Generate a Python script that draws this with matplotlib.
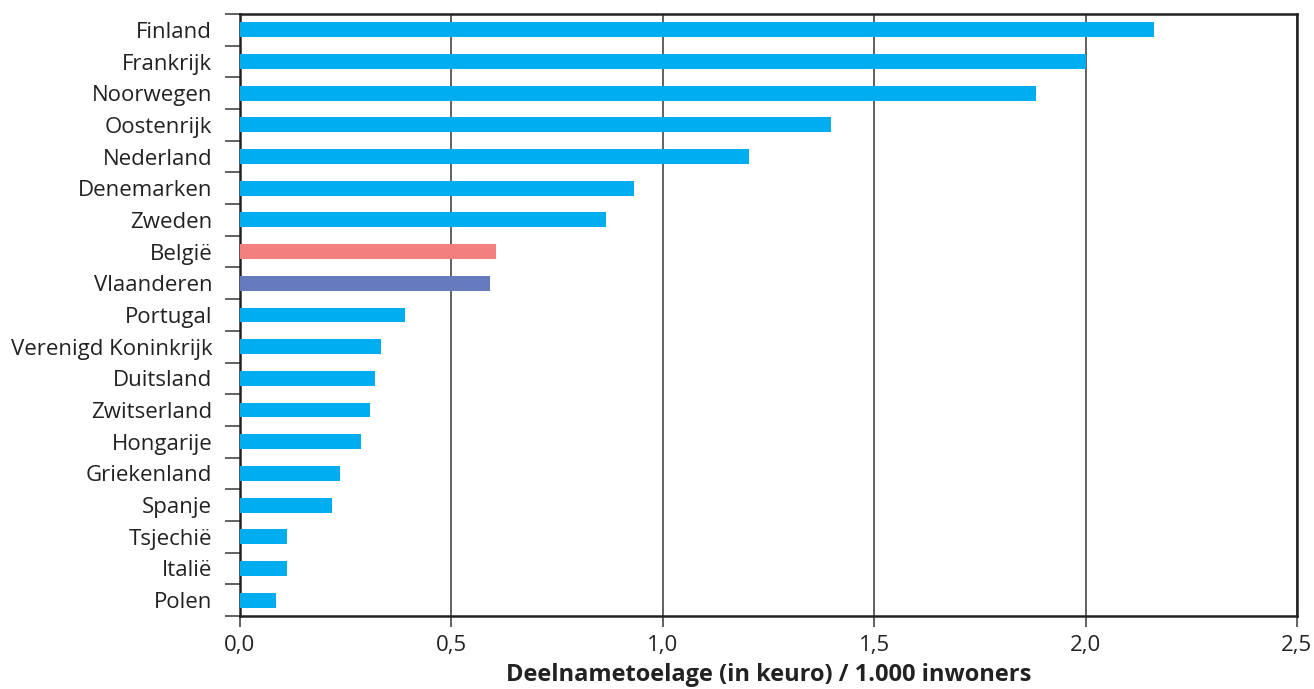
import numpy as np
import matplotlib.pyplot as plt

# data (top to bottom)
landen = ["Finland", "Frankrijk", "Noorwegen", "Oostenrijk", "Nederland",
          "Denemarken", "Zweden", "België", "Vlaanderen", "Portugal",
          "Verenigd Koninkrijk", "Duitsland", "Zwitserland", "Hongarije",
          "Griekenland", "Spanje", "Tsjechië", "Italië", "Polen"]
waarden = [2.161, 2.0, 1.884, 1.397, 1.203, 0.931, 0.867, 0.605, 0.591,
           0.390, 0.333, 0.319, 0.307, 0.286, 0.236, 0.217, 0.111, 0.111, 0.085]

blauw = "#00AEEF"
kleuren = [blauw] * len(landen)
kleuren[landen.index("België")] = "#F47F7F"
kleuren[landen.index("Vlaanderen")] = "#667BBD"

plt.rcParams['font.family'] = ['Open Sans', 'DejaVu Sans']

fig = plt.figure(figsize=(13.14, 6.89), dpi=100)
ax = fig.add_axes([0.1826, 0.106, 0.8044, 0.8737])

y = np.arange(len(landen))[::-1]
ax.barh(y, waarden, height=0.47, color=kleuren, zorder=3)

ax.set_xlim(0, 2.5)
ax.set_ylim(-0.5, len(landen) - 0.5)
ax.set_xticks(np.arange(0, 2.51, 0.5))
ax.set_xticklabels([f"{v:.1f}".replace(".", ",") for v in np.arange(0, 2.51, 0.5)])
ax.set_yticks(y)
ax.set_yticklabels(landen)
ax.set_yticks(np.arange(-0.5, len(landen), 1), minor=True)

ax.tick_params(axis='y', which='major', length=0, pad=20, labelsize=16, colors="#222222")
ax.tick_params(axis='y', which='minor', length=11, width=1.3, color="#555555")
ax.tick_params(axis='x', length=8, width=1.3, color="#555555", pad=6,
               labelsize=16, labelcolor="#222222")

ax.grid(axis='x', color="#555555", linewidth=1.3, zorder=1)
for s in ax.spines.values():
    s.set_color("#222222")
    s.set_linewidth(1.8)

ax.set_xlabel("Deelnametoelage (in keuro) / 1.000 inwoners", fontsize=17,
              fontweight='bold', color="#222222", labelpad=5)

fig.savefig("out.png", dpi=100)
